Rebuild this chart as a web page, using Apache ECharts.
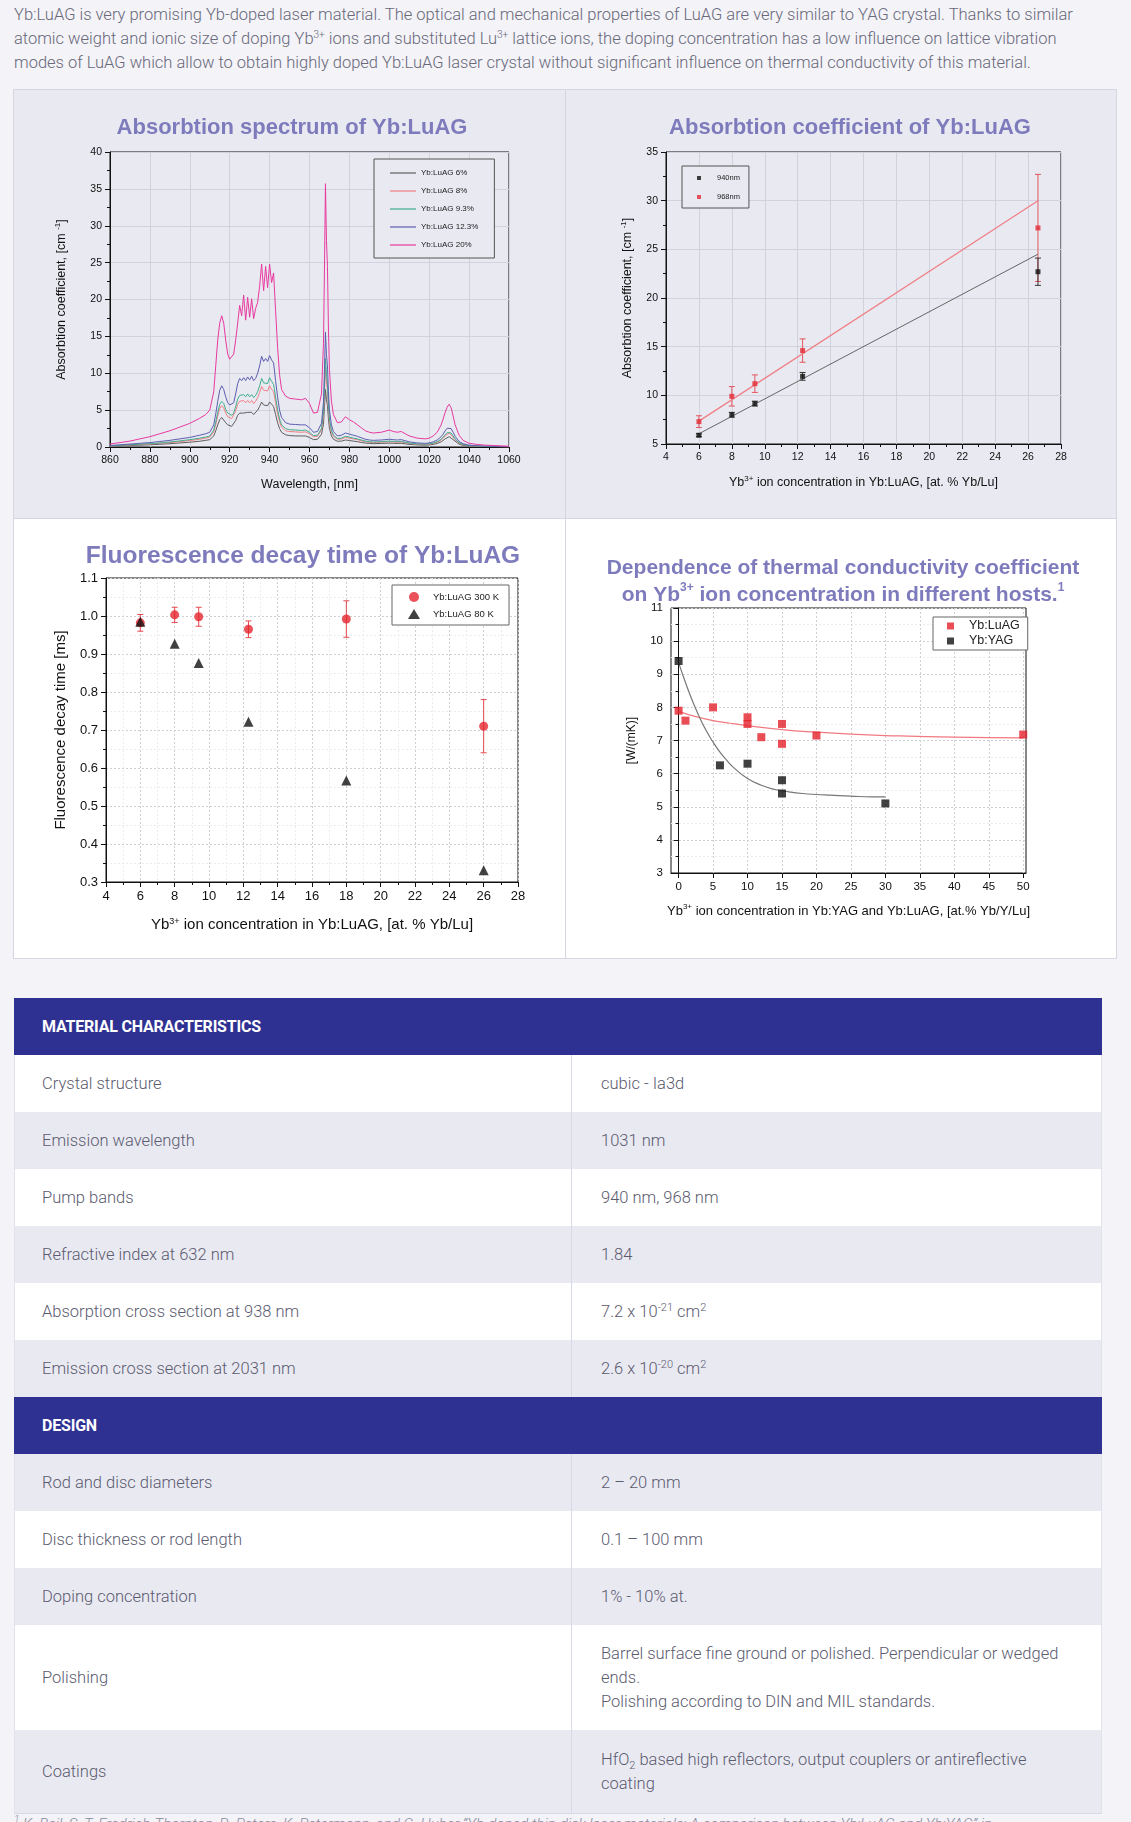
<!DOCTYPE html>
<html><head><meta charset="utf-8">
<script src="https://cdn.jsdelivr.net/npm/echarts@6/dist/echarts.min.js"></script>
<style>
html,body{margin:0;padding:0;}
body{width:1131px;height:1822px;overflow:hidden;background:#f3f3f8;position:relative;font-family:Roboto,sans-serif;}
#intro{position:absolute;left:14px;top:3px;font-weight:300;font-size:16.5px;line-height:24px;color:#686879;white-space:nowrap;letter-spacing:0;}
#intro sup{font-size:10px;line-height:0;vertical-align:6px;}
.chart{position:absolute;}
.ln{position:absolute;background:#d6d6e3;}
#table{position:absolute;left:14px;top:998px;width:1088px;color:#5b5b6f;font-weight:300;font-size:16.5px;letter-spacing:0;border-bottom:1px solid #d8d8e6;}
.hdr{background:#2f3192;color:#fff;font-weight:700;font-size:16px;height:57px;line-height:57px;padding-left:28px;letter-spacing:-0.2px;}
.row{display:flex;height:57px;box-sizing:border-box;border-left:1px solid #e2e2ec;border-right:1px solid #e2e2ec;}
.row.g{background:#e9e9f2}
.row.w{background:#fff}
.c1{width:557px;box-sizing:border-box;padding-left:27px;border-right:1px solid #d8d8e6;display:flex;align-items:center;}
.c2{flex:1;padding-left:29px;display:flex;align-items:center;line-height:24px;}
.c2 sup{font-size:11px;line-height:0;vertical-align:6px;}
.c2 sub{font-size:11px;line-height:0;vertical-align:-4px;}
#foot{position:absolute;left:14px;top:1814px;font-style:italic;font-weight:300;font-size:15px;color:#8a8a9c;white-space:nowrap;}
</style></head>
<body>
<div id="intro">Yb:LuAG is very promising Yb-doped laser material. The optical and mechanical properties of LuAG are very similar to YAG crystal. Thanks to similar<br>atomic weight and ionic size of doping Yb<sup>3+</sup> ions and substituted Lu<sup>3+</sup> lattice ions, the doping concentration has a low influence on lattice vibration<br>modes of LuAG which allow to obtain highly doped Yb:LuAG laser crystal without significant influence on thermal conductivity of this material.</div>

<div class="chart" id="c1" style="left:14px;top:90px;width:551px;height:428px;background:#e9e9f1;"></div>
<div class="chart" id="c2" style="left:566px;top:90px;width:550px;height:428px;background:#e9e9f1;"></div>
<div class="chart" id="c3" style="left:14px;top:519px;width:551px;height:439px;background:#fff;"></div>
<div class="chart" id="c4" style="left:566px;top:519px;width:550px;height:439px;background:#fff;"></div>
<div class="ln" style="left:13px;top:89px;width:1104px;height:1px;"></div>
<div class="ln" style="left:13px;top:958px;width:1104px;height:1px;"></div>
<div class="ln" style="left:13px;top:89px;width:1px;height:870px;"></div>
<div class="ln" style="left:1116px;top:89px;width:1px;height:870px;"></div>
<div class="ln" style="left:565px;top:89px;width:1px;height:870px;"></div>
<div class="ln" style="left:13px;top:518px;width:1104px;height:1px;"></div>

<div id="table">
  <div class="hdr">MATERIAL CHARACTERISTICS</div>
  <div class="row w"><div class="c1">Crystal structure</div><div class="c2">cubic - Ia3d</div></div>
  <div class="row g"><div class="c1">Emission wavelength</div><div class="c2">1031 nm</div></div>
  <div class="row w"><div class="c1">Pump bands</div><div class="c2">940 nm, 968 nm</div></div>
  <div class="row g"><div class="c1">Refractive index at 632 nm</div><div class="c2">1.84</div></div>
  <div class="row w"><div class="c1">Absorption cross section at 938 nm</div><div class="c2"><span>7.2 x 10<sup>-21</sup> cm<sup>2</sup></span></div></div>
  <div class="row g"><div class="c1">Emission cross section at 2031 nm</div><div class="c2"><span>2.6 x 10<sup>-20</sup> cm<sup>2</sup></span></div></div>
  <div class="hdr">DESIGN</div>
  <div class="row g"><div class="c1">Rod and disc diameters</div><div class="c2">2 – 20 mm</div></div>
  <div class="row w"><div class="c1">Disc thickness or rod length</div><div class="c2">0.1 – 100 mm</div></div>
  <div class="row g"><div class="c1">Doping concentration</div><div class="c2">1% - 10% at.</div></div>
  <div class="row w" style="height:105px"><div class="c1">Polishing</div><div class="c2"><span>Barrel surface fine ground or polished. Perpendicular or wedged<br>ends.<br>Polishing according to DIN and MIL standards.</span></div></div>
  <div class="row g" style="height:83px"><div class="c1">Coatings</div><div class="c2"><span>HfO<sub>2</sub> based high reflectors, output couplers or antireflective<br>coating</span></div></div>
</div>
<div id="foot"><sup style="font-size:10px">1</sup> K. Beil, S. T. Fredrich-Thornton, R. Peters, K. Petermann, and G. Huber “Yb-doped thin-disk laser materials: A comparison between Yb:LuAG and Yb:YAG” in</div>

<script>
// ---------- DATA ----------
const wavelengths = [860,865,870,875,880,885,890,895,900,905,908,910,912,913,914,915,916,917,918,919,920,921,922,923,924,925,926,927,928,929,930,931,932,933,934,935,936,937,938,939,940,941,942,943,944,945,946,948,950,953,956,958,960,962,964,966,967,967.5,968,968.5,969,969.5,970,971,972,974,976,978,980,982,984,986,988,990,992,996,1000,1002,1004,1006,1008,1010,1014,1018,1020,1022,1024,1026,1027,1028,1029,1030,1031,1032,1033,1035,1037,1040,1044,1048,1052,1056,1060];
const abs20 = [0.4,0.6,0.8,1.1,1.4,1.8,2.2,2.7,3.2,3.9,4.4,5.0,7.5,11.0,14.5,16.8,17.8,16.8,14.5,12.6,11.9,11.7,12.6,14.5,16.8,19.2,17.8,20.6,17.2,20.3,17.6,20.1,17.4,18.8,19.6,21.8,24.8,21.2,24.5,21.6,24.8,22.3,23.6,18.5,13.5,9.8,7.8,6.9,6.6,6.5,6.4,6.6,5.9,4.6,4.7,7.2,14.0,24.0,35.7,28.0,24.5,16.0,10.5,6.2,4.4,3.3,3.4,4.1,3.7,3.4,3.0,2.6,2.2,2.0,1.9,2.0,2.3,2.1,2.0,2.1,1.8,1.5,1.2,1.1,1.2,1.5,2.0,3.0,3.8,4.7,5.4,5.8,5.3,4.2,3.0,1.6,0.9,0.5,0.35,0.25,0.2,0.15,0.1];
const abs123 = [0.2,0.3,0.4,0.5,0.6,0.75,0.9,1.1,1.3,1.6,1.8,2.0,3.0,4.5,6.2,7.7,8.3,7.8,6.8,6.0,5.7,5.6,6.0,7.2,8.6,9.3,9.0,9.4,9.0,9.5,9.1,9.6,9.0,9.3,10.0,11.0,12.3,11.6,12.0,11.6,12.4,11.8,11.4,9.0,6.8,5.0,4.0,3.3,3.1,3.05,3.0,3.0,2.6,2.0,2.1,3.2,6.0,10.5,15.6,12.5,11.0,7.5,5.0,3.0,2.1,1.5,1.6,1.9,1.75,1.6,1.45,1.25,1.05,0.95,0.9,0.95,1.05,1.0,0.95,1.0,0.85,0.7,0.55,0.5,0.55,0.7,0.95,1.4,1.75,2.2,2.55,2.75,2.5,2.0,1.45,0.75,0.45,0.25,0.17,0.12,0.1,0.08,0.05];
const abs93 = [0.15,0.22,0.3,0.38,0.45,0.55,0.68,0.82,1.0,1.2,1.35,1.5,2.3,3.4,4.7,5.8,6.2,5.9,5.1,4.6,4.4,4.3,4.6,5.5,6.5,7.0,6.8,7.1,6.8,7.2,6.8,7.1,6.7,7.0,7.5,8.3,9.3,8.7,8.9,8.6,9.4,8.9,8.5,6.8,5.1,3.8,3.0,2.5,2.35,2.3,2.25,2.3,2.0,1.55,1.6,2.5,4.8,8.2,12.0,9.8,8.5,5.8,3.8,2.3,1.6,1.15,1.2,1.45,1.35,1.2,1.1,0.95,0.8,0.72,0.68,0.72,0.8,0.76,0.72,0.76,0.64,0.53,0.42,0.38,0.42,0.53,0.72,1.05,1.35,1.65,1.95,2.1,1.9,1.5,1.1,0.57,0.34,0.19,0.13,0.09,0.08,0.06,0.04];
const abs8 = [0.13,0.2,0.27,0.34,0.4,0.5,0.6,0.73,0.88,1.05,1.2,1.35,2.05,3.0,4.2,5.2,5.6,5.3,4.6,4.1,3.95,3.85,4.1,4.9,5.8,6.2,6.0,6.3,6.0,6.3,6.0,6.3,5.9,6.2,6.7,7.4,8.2,7.7,7.9,7.6,8.3,7.8,7.5,6.0,4.5,3.4,2.7,2.2,2.1,2.05,2.0,2.05,1.8,1.4,1.45,2.3,4.3,7.4,10.8,8.8,7.6,5.2,3.4,2.05,1.45,1.05,1.08,1.3,1.2,1.1,1.0,0.85,0.72,0.65,0.62,0.65,0.72,0.68,0.65,0.68,0.58,0.48,0.38,0.34,0.38,0.48,0.65,0.95,1.2,1.5,1.75,1.9,1.7,1.35,1.0,0.52,0.3,0.17,0.12,0.08,0.07,0.05,0.03];
const abs6 = [0.1,0.15,0.2,0.25,0.3,0.37,0.45,0.55,0.65,0.78,0.9,1.0,1.5,2.2,3.0,3.7,4.0,3.8,3.3,3.0,2.9,2.8,3.0,3.6,4.3,4.6,4.4,4.6,4.4,4.7,4.5,4.7,4.4,4.6,5.0,5.5,6.1,5.7,5.5,5.6,6.1,5.8,5.5,4.4,3.3,2.5,2.0,1.65,1.55,1.5,1.5,1.5,1.3,1.0,1.05,1.7,3.1,5.4,7.8,6.4,5.6,3.8,2.5,1.5,1.05,0.78,0.8,0.95,0.88,0.8,0.72,0.62,0.53,0.48,0.45,0.48,0.53,0.5,0.48,0.5,0.43,0.35,0.28,0.25,0.28,0.35,0.48,0.7,0.88,1.1,1.3,1.4,1.25,1.0,0.74,0.38,0.22,0.12,0.09,0.06,0.05,0.04,0.03];
const spectrumNames = ['Yb:LuAG 6%','Yb:LuAG 8%','Yb:LuAG 9.3%','Yb:LuAG 12.3%','Yb:LuAG 20%'];

const absConc = [6, 8, 9.4, 12.3, 26.6];
const coef940 = [5.9, 8.0, 9.15, 11.95, 22.7];
const err940 = [0.15, 0.25, 0.25, 0.4, 1.4];
const coef968 = [7.3, 9.9, 11.2, 14.6, 27.2];
const err968 = [0.6, 1.0, 0.9, 1.2, 5.5];
const fit940X = [6, 26.6];
const fit940Y = [6.05, 24.5];
const fit968X = [6, 26.6];
const fit968Y = [7.35, 30.0];

const decayConc = [6, 8, 9.4, 12.3, 18, 26];
const decay300 = [0.982, 1.003, 0.998, 0.965, 0.992, 0.71];
const err300 = [0.022, 0.02, 0.025, 0.022, 0.048, 0.07];
const decay80 = [0.985, 0.927, 0.876, 0.722, 0.567, 0.331];

const luagConc = [0, 1, 5, 10, 10, 12, 15, 15, 20, 50];
const luagK = [7.9, 7.6, 8.0, 7.7, 7.5, 7.1, 7.5, 6.9, 7.15, 7.18];
const yagConc = [0, 6, 10, 15, 15, 30];
const yagK = [9.4, 6.25, 6.3, 5.8, 5.4, 5.1];
const luagFitX = [0, 2.5, 5, 7.5, 10, 15, 20, 25, 30, 40, 50];
const luagFitY = [7.88, 7.72, 7.6, 7.52, 7.45, 7.33, 7.25, 7.19, 7.15, 7.1, 7.08];
const yagFitX = [0, 1, 2, 3, 4, 5, 6, 7, 8, 10, 12, 14, 16, 18, 20, 22, 25, 28, 30];
const yagFitY = [9.35, 8.75, 8.2, 7.72, 7.3, 6.95, 6.65, 6.4, 6.18, 5.85, 5.65, 5.52, 5.45, 5.4, 5.37, 5.35, 5.32, 5.3, 5.3];
const thermalXTicks = [0, 5, 10, 15, 20, 25, 30, 35, 40, 45, 50];

// ---------- STYLE ----------
const FONT = '"Liberation Sans", Arial, sans-serif';
const TITLE = '#7e7bbd';
const spectrumColors = ['#5e5e5e', '#f27d84', '#3fae8c', '#5d5db0', '#e8399e'];
const SUP = {fontSize: 8, verticalAlign: 'top', lineHeight: 9, fontFamily: FONT, color: '#111'};

function pairs(xs, ys) { return xs.map((x, i) => [x, ys[i]]); }
const plain = v => String(v);

function axis(o) {
  const a = {
    type: 'value',
    axisLine: {show: true, lineStyle: {color: '#111', width: 1}},
    axisTick: {show: true, length: 5, lineStyle: {color: '#111'}},
    minorTick: {show: true, splitNumber: 2, length: 3, lineStyle: {color: '#111'}},
    axisLabel: {color: '#111', fontSize: o.labelSize || 11, fontFamily: FONT, formatter: o.fmt || plain},
    splitLine: {show: true, lineStyle: o.split || {color: '#d2d2df', width: 1}},
    minorSplitLine: {show: !!o.minorSplit, lineStyle: o.minorSplit || {}},
    nameLocation: 'middle',
    name: o.name, nameGap: o.nameGap,
    nameTextStyle: {color: '#111', fontFamily: FONT, fontSize: o.nameSize || 12, lineHeight: 16, rich: {sup: Object.assign({}, SUP, {fontSize: o.supSize || 8})}},
    min: o.min, max: o.max, interval: o.interval
  };
  if (o.custom) {
    a.axisLabel.customValues = o.custom;
    a.axisTick.customValues = o.custom;
    a.minorTick.show = false;
  }
  return a;
}

function errorBars(name, xs, ys, errs, color, cap) {
  return {
    type: 'custom', name: name, z: 1, silent: true,
    data: xs.map((x, i) => [x, ys[i] - errs[i], ys[i] + errs[i]]),
    encode: {x: 0, y: [1, 2]},
    renderItem: function (params, api) {
      const lo = api.coord([api.value(0), api.value(1)]);
      const hi = api.coord([api.value(0), api.value(2)]);
      const st = {stroke: color, lineWidth: 1};
      return {type: 'group', children: [
        {type: 'line', shape: {x1: lo[0], y1: lo[1], x2: hi[0], y2: hi[1]}, style: st},
        {type: 'line', shape: {x1: lo[0] - cap, y1: lo[1], x2: lo[0] + cap, y2: lo[1]}, style: st},
        {type: 'line', shape: {x1: hi[0] - cap, y1: hi[1], x2: hi[0] + cap, y2: hi[1]}, style: st}
      ]};
    }
  };
}

// ---------- CHART 1: absorption spectrum ----------
const spectra = [abs6, abs8, abs93, abs123, abs20];
const c1 = echarts.init(document.getElementById('c1'));
c1.setOption({
  animation: false,
  title: {text: 'Absorbtion spectrum of Yb:LuAG', left: 273, textAlign: 'center', top: 22,
    textStyle: {color: TITLE, fontSize: 22, fontWeight: 'bold', fontFamily: FONT}},
  grid: {left: 96, right: 56, top: 62, bottom: 71, show: true, backgroundColor: '#e9e9f1', borderColor: '#111', borderWidth: 1},
  legend: {orient: 'vertical', left: 360, top: 69, padding: [9, 16, 8, 16], itemGap: 8, itemWidth: 26, itemHeight: 1.2,
    borderColor: '#555', borderWidth: 1, backgroundColor: '#e9e9f1',
    textStyle: {fontSize: 8, lineHeight: 10, fontFamily: FONT, color: '#222'},
    data: spectrumNames.map((n, k) => ({name: n, icon: 'rect', itemStyle: {color: spectrumColors[k]}}))},
  xAxis: axis({min: 860, max: 1060, interval: 20, labelSize: 10.5, name: 'Wavelength, [nm]', nameGap: 30, nameSize: 12.5}),
  yAxis: axis({min: 0, max: 40, interval: 5, labelSize: 10.5, name: 'Absorbtion coefficient, [cm {sup|-1}]', nameGap: 40, nameSize: 12.5}),
  series: spectra.map((arr, k) => ({
    type: 'line', name: spectrumNames[k], data: pairs(wavelengths, arr), symbol: 'none', showSymbol: false,
    lineStyle: {width: 1, color: spectrumColors[k]}, itemStyle: {color: spectrumColors[k]}
  }))
});

// ---------- CHART 2: absorption coefficient ----------
const c2 = echarts.init(document.getElementById('c2'));
c2.setOption({
  animation: false,
  title: {text: 'Absorbtion coefficient of Yb:LuAG', left: 279, textAlign: 'center', top: 22,
    textStyle: {color: TITLE, fontSize: 22, fontWeight: 'bold', fontFamily: FONT}},
  grid: {left: 100, right: 55, top: 62, bottom: 74, show: true, backgroundColor: '#e9e9f1', borderColor: '#111', borderWidth: 1},
  legend: {orient: 'vertical', left: 116, top: 76, padding: [8, 9, 7, 15], itemGap: 11, itemWidth: 4, itemHeight: 4,
    borderColor: '#555', borderWidth: 1, backgroundColor: '#e9e9f1',
    textStyle: {fontSize: 7.5, fontFamily: FONT, color: '#222', padding: [0, 0, 0, 11]},
    data: [{name: '940nm', icon: 'rect'}, {name: '968nm', icon: 'rect'}]},
  xAxis: axis({min: 4, max: 28, interval: 2, labelSize: 10.5, name: 'Yb{sup|3+} ion concentration in Yb:LuAG, [at. % Yb/Lu]', nameGap: 31, nameSize: 12.5}),
  yAxis: axis({min: 5, max: 35, interval: 5, labelSize: 10.5, name: 'Absorbtion coefficient, [cm {sup|-1}]', nameGap: 30, nameSize: 12.5}),
  series: [
    {type: 'line', name: 'fit940', data: pairs(fit940X, fit940Y), symbol: 'none', lineStyle: {color: '#666', width: 1}, z: 1},
    {type: 'line', name: 'fit968', data: pairs(fit968X, fit968Y), symbol: 'none', lineStyle: {color: '#f07f86', width: 1.2}, z: 1},
    errorBars('err968', absConc, coef968, err968, '#e2565c', 3),
    errorBars('err940', absConc, coef940, err940, '#333', 3),
    {type: 'scatter', name: '940nm', data: pairs(absConc, coef940), symbol: 'rect', symbolSize: 5, itemStyle: {color: '#111'}, z: 3},
    {type: 'scatter', name: '968nm', data: pairs(absConc, coef968), symbol: 'rect', symbolSize: 5, itemStyle: {color: '#e42b35'}, z: 3}
  ]
});

// ---------- CHART 3: fluorescence decay ----------
const dotted = {color: '#cfcfd4', type: [2, 2], width: 1};
const c3 = echarts.init(document.getElementById('c3'));
c3.setOption({
  animation: false,
  title: {text: 'Fluorescence decay time of Yb:LuAG', left: 284, textAlign: 'center', top: 20,
    textStyle: {color: TITLE, fontSize: 24.5, fontWeight: 'bold', fontFamily: FONT}},
  grid: {left: 92, right: 47, top: 59, bottom: 76, show: true, backgroundColor: '#fff', borderColor: '#111', borderWidth: 1},
  legend: {orient: 'vertical', left: 378, top: 66, padding: [7, 10, 6, 16], itemGap: 7, itemWidth: 12, itemHeight: 10,
    borderColor: '#666', borderWidth: 1, backgroundColor: '#fff',
    textStyle: {fontSize: 9.5, fontFamily: FONT, color: '#222', padding: [0, 0, 0, 8]},
    data: ['Yb:LuAG 300 K', 'Yb:LuAG 80 K']},
  xAxis: axis({min: 4, max: 28, interval: 2, labelSize: 13, split: dotted, minorSplit: {color: '#ececef', type: [2, 2]},
    name: 'Yb{sup|3+} ion concentration in Yb:LuAG, [at. % Yb/Lu]', nameGap: 35, nameSize: 15, supSize: 9}),
  yAxis: axis({min: 0.3, max: 1.1, interval: 0.1, labelSize: 13, split: dotted, minorSplit: {color: '#ececef', type: [2, 2]},
    fmt: v => v.toFixed(1), name: 'Fluorescence decay time [ms]', nameGap: 35, nameSize: 15}),
  series: [
    errorBars('err300', decayConc, decay300, err300, '#e5484d', 3),
    {type: 'scatter', name: 'Yb:LuAG 300 K', data: pairs(decayConc, decay300), symbol: 'circle', symbolSize: 9, itemStyle: {color: '#e5262e'}, z: 3},
    {type: 'scatter', name: 'Yb:LuAG 80 K', data: pairs(decayConc, decay80), symbol: 'triangle', symbolSize: 10, itemStyle: {color: '#111'}, z: 4}
  ]
});

// ---------- CHART 4: thermal conductivity ----------
const c4 = echarts.init(document.getElementById('c4'));
c4.setOption({
  animation: false,
  title: {text: 'Dependence of thermal conductivity coefficient\non Yb{sup|3+} ion concentration in different hosts.{sup|1}', left: 272, textAlign: 'center', top: 31,
    textStyle: {color: TITLE, fontSize: 21, lineHeight: 27, fontWeight: 'bold', fontFamily: FONT,
      rich: {sup: {fontSize: 12, fontWeight: 'bold', verticalAlign: 'top', lineHeight: 19, color: TITLE, fontFamily: FONT}}}},
  grid: {left: 105, right: 90, top: 89, bottom: 85, show: true, backgroundColor: '#fff', borderColor: '#111', borderWidth: 1},
  legend: {orient: 'vertical', left: 367, top: 98, padding: [2, 8, 2, 14], itemGap: 1, itemWidth: 7, itemHeight: 7,
    borderColor: '#666', borderWidth: 1, backgroundColor: '#fff',
    textStyle: {fontSize: 12.5, lineHeight: 14, fontFamily: FONT, color: '#222', padding: [0, 0, 0, 10]},
    data: [{name: 'Yb:LuAG', icon: 'rect'}, {name: 'Yb:YAG', icon: 'rect'}]},
  xAxis: axis({min: -1.1, max: 50.4, custom: thermalXTicks, labelSize: 11.5, split: dotted,
    name: 'Yb{sup|3+} ion concentration in Yb:YAG and Yb:LuAG, [at.% Yb/Y/Lu]', nameGap: 30, nameSize: 13}),
  yAxis: axis({min: 3, max: 11, interval: 1, labelSize: 11.5, split: dotted, minorSplit: {color: '#ececef', type: [2, 2]},
    name: '[W/(mK)]', nameGap: 25, nameSize: 12}),
  series: [
    {type: 'line', name: 'fitLuAG', data: pairs(luagFitX, luagFitY), smooth: true, symbol: 'none', lineStyle: {color: '#f07a80', width: 1.2}, z: 1},
    {type: 'line', name: 'fitYAG', data: pairs(yagFitX, yagFitY), smooth: true, symbol: 'none', lineStyle: {color: '#777', width: 1.2}, z: 1},
    {type: 'scatter', name: 'Yb:LuAG', data: pairs(luagConc, luagK), symbol: 'rect', symbolSize: 8, itemStyle: {color: '#e4212b'}, z: 3},
    {type: 'scatter', name: 'Yb:YAG', data: pairs(yagConc, yagK), symbol: 'rect', symbolSize: 8, itemStyle: {color: '#111'}, z: 3}
  ]
});
</script>
</body></html>
